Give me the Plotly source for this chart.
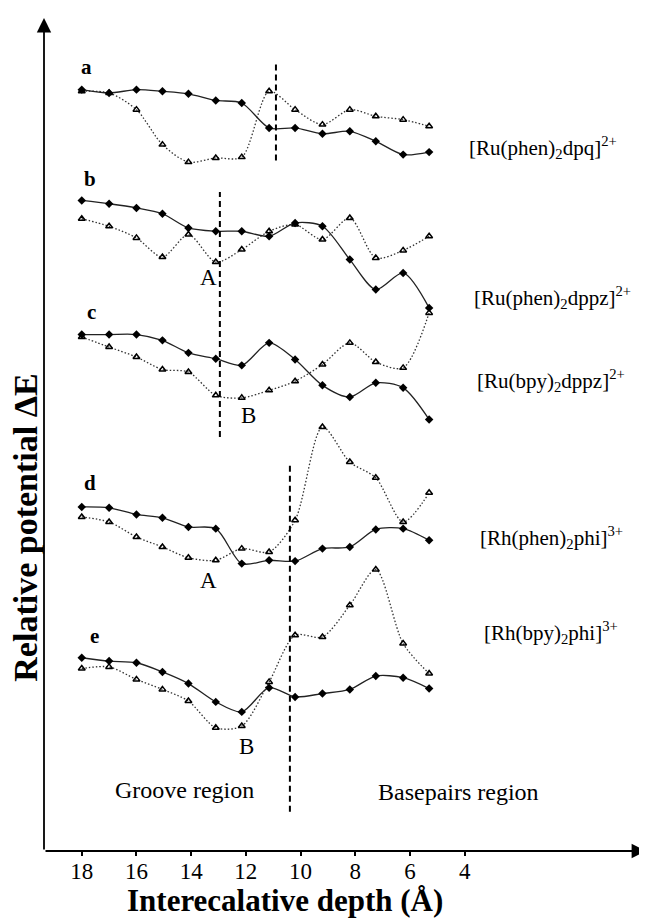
import plotly.graph_objects as go

# ---- data ----
depth = [18, 17, 16, 15.05, 14.1, 13.1, 12.15, 11.15, 10.2, 9.2, 8.2, 7.25, 6.25, 5.3]

a_solid = [91.4, 91.0, 91.4, 91.2, 90.9, 90.1, 89.8, 86.8, 86.8, 86.1, 86.4, 85.2, 83.6, 83.9]
a_dotted = [91.2, 91.0, 89.0, 84.8, 82.7, 83.2, 83.3, 91.2, 89.0, 87.2, 89.0, 88.2, 87.8, 87.0]

b_solid = [78.1, 77.7, 77.2, 76.5, 74.8, 74.4, 74.4, 73.8, 75.4, 75.0, 71.0, 67.4, 69.4, 65.2]
b_dotted = [75.9, 75.0, 73.6, 71.3, 74.0, 70.7, 72.2, 74.4, 75.2, 73.4, 76.0, 71.2, 72.1, 73.8]

c_solid = [62.0, 62.0, 62.0, 61.3, 59.8, 59.1, 58.3, 61.0, 59.0, 55.9, 54.5, 56.2, 55.6, 51.8]
c_dotted = [61.7, 60.5, 59.3, 57.8, 57.5, 54.7, 54.4, 55.3, 56.4, 58.4, 61.0, 58.7, 58.0, 64.6]

d_solid = [41.3, 41.2, 40.4, 40.0, 38.9, 38.7, 34.5, 34.9, 34.8, 36.3, 36.5, 38.6, 38.7, 37.3]
d_dotted = [40.1, 39.5, 37.7, 36.5, 35.2, 34.9, 36.3, 35.9, 39.7, 50.9, 46.7, 44.8, 39.5, 43.0]

e_solid = [23.2, 22.8, 22.6, 21.5, 20.1, 17.9, 16.7, 19.6, 18.5, 18.9, 19.4, 21.0, 20.8, 19.5]
e_dotted = [21.9, 22.1, 20.6, 19.4, 18.0, 14.8, 15.0, 20.3, 25.9, 25.7, 29.5, 33.8, 24.9, 21.3]

panel_letters = ["a", "b", "c", "d", "e"]
complex_names = [
    "[Ru(phen)<sub>2</sub>dpq]<sup>2+</sup>",
    "[Ru(phen)<sub>2</sub>dppz]<sup>2+</sup>",
    "[Ru(bpy)<sub>2</sub>dppz]<sup>2+</sup>",
    "[Rh(phen)<sub>2</sub>phi]<sup>3+</sup>",
    "[Rh(bpy)<sub>2</sub>phi]<sup>3+</sup>",
]
tick_vals = [18, 16, 14, 12, 10, 8, 6, 4]

FONT = "Liberation Serif, Times New Roman, serif"

fig = go.Figure()

solids = [a_solid, b_solid, c_solid, d_solid, e_solid]
dotteds = [a_dotted, b_dotted, c_dotted, d_dotted, e_dotted]
for s, d in zip(solids, dotteds):
    fig.add_trace(go.Scatter(
        x=depth, y=d, mode="lines+markers",
        line=dict(color="#333333", width=1.3, dash="1.5px,2px", shape="spline", smoothing=0.8),
        marker=dict(symbol="triangle-up-open", size=6, color="black", line=dict(width=1.5, color="black")),
        showlegend=False, hoverinfo="skip"))
    fig.add_trace(go.Scatter(
        x=depth, y=s, mode="lines+markers",
        line=dict(color="#222222", width=1.3, shape="spline", smoothing=0.8),
        marker=dict(symbol="diamond", size=6.5, color="black"),
        showlegend=False, hoverinfo="skip"))

# dashed separators
dash_lines = [(10.9, 82.9, 94.6), (12.95, 49.7, 79.1), (10.39, 4.7, 46.3)]
for xv, y0, y1 in dash_lines:
    fig.add_shape(type="line", xref="x", yref="y", x0=xv, x1=xv, y0=y0, y1=y1,
                  line=dict(color="black", width=2, dash="6px,4px"))

annotations = []
# panel letters
letter_pos = [(17.81, 94.1), (17.7, 80.7), (17.64, 64.7), (17.7, 44.2), (17.55, 25.8)]
for t, (xv, yv) in zip(panel_letters, letter_pos):
    annotations.append(dict(x=xv, y=yv, xref="x", yref="y", text="<b>%s</b>" % t, showarrow=False,
                            font=dict(family=FONT, size=21, color="black")))
# complex names
name_pos = [(3.92, 84.4), (3.74, 66.4), (3.62, 56.5), (3.51, 37.6), (3.38, 26.2)]
for t, (xv, yv) in zip(complex_names, name_pos):
    annotations.append(dict(x=xv, y=yv, xref="x", yref="y", text=t, showarrow=False, xanchor="left",
                            font=dict(family=FONT, size=21, color="black")))
# A / B markers
ab = [("A", 13.38, 68.8), ("B", 11.92, 52.3), ("A", 13.38, 32.5), ("B", 11.96, 12.6)]
for t, xv, yv in ab:
    annotations.append(dict(x=xv, y=yv, xref="x", yref="y", text=t, showarrow=False,
                            font=dict(family=FONT, size=23, color="black")))
# regions
annotations.append(dict(x=14.26, y=7.3, xref="x", yref="y", text="Groove region", showarrow=False,
                        font=dict(family=FONT, size=24, color="black")))
annotations.append(dict(x=4.21, y=7.1, xref="x", yref="y", text="Basepairs region", showarrow=False,
                        font=dict(family=FONT, size=24, color="black")))
# axis arrows
annotations.append(dict(x=1, y=0, xref="paper", yref="paper", text="", showarrow=True,
                        ax=-603, ay=0, axref="pixel", ayref="pixel",
                        arrowhead=2, arrowsize=1.6, arrowwidth=1.8, arrowcolor="black"))
annotations.append(dict(x=0, y=1, xref="paper", yref="paper", text="", showarrow=True,
                        ax=0, ay=833, axref="pixel", ayref="pixel",
                        arrowhead=2, arrowsize=1.6, arrowwidth=1.8, arrowcolor="black"))
# axis titles
annotations.append(dict(x=-0.03, y=0.388, xref="paper", yref="paper", text="<b>Relative potential ΔE</b>",
                        xanchor="center", yanchor="middle",
                        showarrow=False, textangle=-90, font=dict(family=FONT, size=34, color="black")))
annotations.append(dict(x=0.40, y=-0.059, xref="paper", yref="paper", text="<b>Interecalative depth (Å)</b>",
                        xanchor="center", yanchor="middle",
                        showarrow=False, font=dict(family=FONT, size=31, color="black")))

fig.update_layout(
    width=639, height=912,
    margin=dict(l=36, r=0, t=10, b=69),
    paper_bgcolor="white", plot_bgcolor="white",
    annotations=annotations,
    xaxis=dict(range=[19.38, -2.665], tickvals=tick_vals, ticktext=[str(v) for v in tick_vals],
               ticks="outside", ticklen=4, tickwidth=1.5, tickcolor="black",
               ticklabelstandoff=-5,
               showline=False, showgrid=False, zeroline=False,
               tickfont=dict(family=FONT, size=23, color="black")),
    yaxis=dict(range=[0, 100], showticklabels=False, showline=False, showgrid=False, zeroline=False,
               ticks=""),
)

fig.write_html("out.html")
